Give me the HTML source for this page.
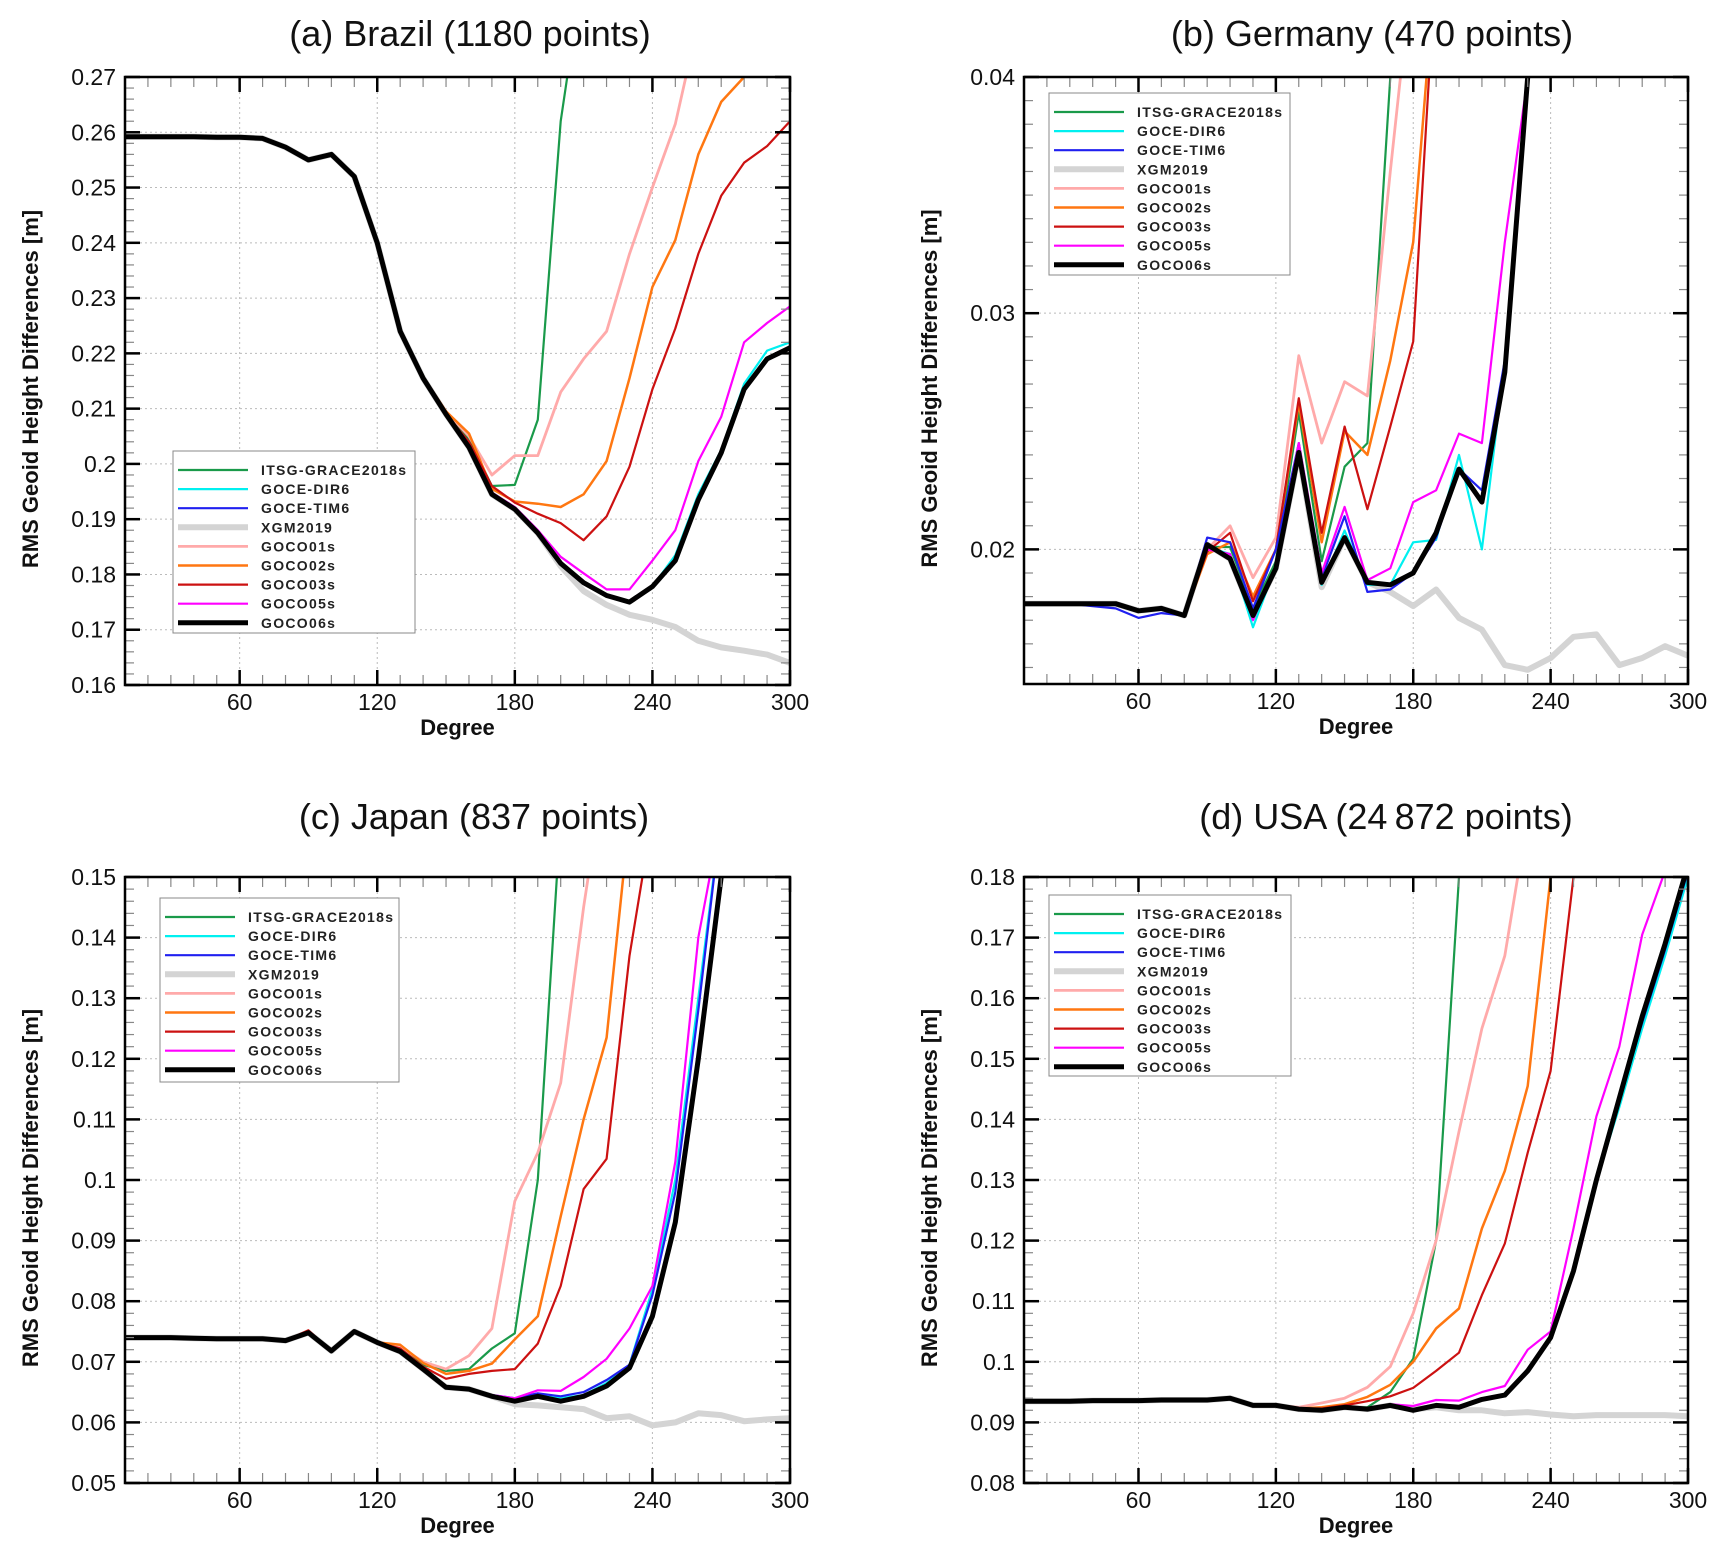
<!DOCTYPE html>
<html><head><meta charset="utf-8">
<style>
html,body{margin:0;padding:0;background:#fff;}
svg{display:block;font-family:"Liberation Sans",Arial,sans-serif;}
</style></head>
<body>
<svg id="chart" width="1728" height="1556" viewBox="0 0 1728 1556" xmlns="http://www.w3.org/2000/svg">
</svg>
<script>
// ---- shared data ----
const degrees = [0,10,20,30,40,50,60,70,80,90,100,110,120,130,140,150,160,170,180,190,200,210,220,230,240,250,260,270,280,290,300];
const seriesNames = ["ITSG-GRACE2018s","GOCE-DIR6","GOCE-TIM6","XGM2019","GOCO01s","GOCO02s","GOCO03s","GOCO05s","GOCO06s"];
const seriesColors = ["#1a9a4a","#00f0f0","#2020f0","#d4d4d4","#ffaaaa","#ff7711","#cc1111","#ff00ff","#000000"];
const seriesWidths = [2.2,2.2,2.2,6,2.8,2.5,2.2,2.2,5];

// Panel (a) Brazil
const brazilBase = [0.2595,0.2592,0.2592,0.2592,0.2592,0.2591,0.2591,0.2589,0.2573,0.255,0.256,0.252,0.240,0.224,0.2155,0.209,0.203,0.1945,0.1918,0.1875,0.182,0.1785,0.1762,0.175,0.1778,0.1825,0.1935,0.202,0.2135,0.219,0.221];
const brazilITSG = [0.2595,0.2592,0.2592,0.2592,0.2592,0.2591,0.2591,0.2589,0.2573,0.255,0.256,0.252,0.240,0.224,0.2155,0.209,0.2045,0.196,0.1962,0.208,0.262,0.29,0.3,0.3,0.3,0.3,0.3,0.3,0.3,0.3,0.3];
const brazilDIR6 = [0.2595,0.2592,0.2592,0.2592,0.2592,0.2591,0.2591,0.2589,0.2573,0.255,0.256,0.252,0.240,0.224,0.2155,0.209,0.203,0.1945,0.1918,0.1875,0.182,0.1785,0.1762,0.175,0.1778,0.1835,0.1945,0.2025,0.2145,0.2205,0.222];
const brazilTIM6 = [0.2595,0.2592,0.2592,0.2592,0.2592,0.2591,0.2591,0.2589,0.2573,0.255,0.256,0.252,0.240,0.224,0.2155,0.209,0.203,0.1945,0.1918,0.1875,0.182,0.1785,0.1762,0.1752,0.178,0.1828,0.1938,0.202,0.2138,0.219,0.2212];
const brazilXGM = [0.2595,0.2592,0.2592,0.2592,0.2592,0.2591,0.2591,0.2589,0.2573,0.255,0.256,0.252,0.240,0.224,0.2155,0.209,0.203,0.1945,0.1918,0.1875,0.1815,0.177,0.1745,0.1727,0.1718,0.1705,0.168,0.1668,0.1662,0.1655,0.164];
const brazilG01 = [0.2595,0.2592,0.2592,0.2592,0.2592,0.2591,0.2591,0.2589,0.2573,0.255,0.256,0.252,0.240,0.224,0.2155,0.2095,0.205,0.198,0.2015,0.2015,0.213,0.219,0.224,0.238,0.25,0.2615,0.28,0.3,0.3,0.3,0.3];
const brazilG02 = [0.2595,0.2592,0.2592,0.2592,0.2592,0.2591,0.2591,0.2589,0.2573,0.255,0.256,0.252,0.240,0.224,0.2158,0.2095,0.2055,0.1955,0.1932,0.1928,0.1922,0.1945,0.2005,0.2155,0.232,0.2405,0.256,0.2655,0.27,0.275,0.28];
const brazilG03 = [0.2595,0.2592,0.2592,0.2592,0.2592,0.2591,0.2591,0.2589,0.2573,0.255,0.256,0.252,0.240,0.224,0.2155,0.209,0.204,0.196,0.193,0.191,0.1893,0.1862,0.1905,0.1995,0.2135,0.2245,0.238,0.2485,0.2545,0.2575,0.262];
const brazilG05 = [0.2595,0.2592,0.2592,0.2592,0.2592,0.2591,0.2591,0.2589,0.2573,0.255,0.256,0.252,0.240,0.224,0.2155,0.209,0.203,0.1948,0.1922,0.188,0.1832,0.1802,0.1773,0.1773,0.1825,0.188,0.2005,0.2085,0.222,0.2255,0.2285];

// Panel (b) Germany
const germanyBase = [0.0177,0.0177,0.0177,0.0177,0.0177,0.0177,0.0174,0.0175,0.0172,0.0202,0.0196,0.0172,0.0192,0.0241,0.0186,0.0205,0.0186,0.0185,0.019,0.0207,0.0234,0.022,0.0275,0.040,0.05,0.05,0.05,0.05,0.05,0.05,0.05];
const germanyITSG = [0.0177,0.0177,0.0177,0.0177,0.0177,0.0177,0.0174,0.0175,0.0172,0.0201,0.0201,0.0175,0.0195,0.0258,0.0195,0.0235,0.0245,0.040,0.05,0.05,0.05,0.05,0.05,0.05,0.05,0.05,0.05,0.05,0.05,0.05,0.05];
const germanyDIR6 = [0.0177,0.0177,0.0177,0.0177,0.0177,0.0177,0.0174,0.0175,0.0172,0.0201,0.0198,0.0167,0.0193,0.0243,0.0185,0.0208,0.0185,0.0185,0.0203,0.0204,0.024,0.020,0.028,0.040,0.05,0.05,0.05,0.05,0.05,0.05,0.05];
const germanyTIM6 = [0.0177,0.0177,0.0177,0.0177,0.0176,0.0175,0.0171,0.0173,0.0172,0.0205,0.0203,0.0175,0.020,0.0245,0.0188,0.0214,0.0182,0.0183,0.019,0.0205,0.0234,0.0225,0.028,0.040,0.05,0.05,0.05,0.05,0.05,0.05,0.05];
const germanyXGM = [0.0177,0.0177,0.0177,0.0177,0.0177,0.0177,0.0174,0.0175,0.0172,0.0202,0.0196,0.0172,0.0192,0.0241,0.0184,0.0205,0.0186,0.0182,0.0176,0.0183,0.0171,0.0166,0.0151,0.0149,0.0154,0.0163,0.0164,0.0151,0.0154,0.0159,0.0155];
const germanyG01 = [0.0177,0.0177,0.0177,0.0177,0.0177,0.0177,0.0174,0.0175,0.0172,0.020,0.021,0.0188,0.0205,0.0282,0.0245,0.0271,0.0265,0.036,0.045,0.05,0.05,0.05,0.05,0.05,0.05,0.05,0.05,0.05,0.05,0.05,0.05];
const germanyG02 = [0.0177,0.0177,0.0177,0.0177,0.0177,0.0177,0.0174,0.0175,0.0172,0.0198,0.0203,0.018,0.020,0.0262,0.0203,0.025,0.024,0.028,0.033,0.045,0.05,0.05,0.05,0.05,0.05,0.05,0.05,0.05,0.05,0.05,0.05];
const germanyG03 = [0.0177,0.0177,0.0177,0.0177,0.0177,0.0177,0.0174,0.0175,0.0172,0.0199,0.0207,0.0178,0.020,0.0264,0.0207,0.0252,0.0217,0.0252,0.0288,0.045,0.05,0.05,0.05,0.05,0.05,0.05,0.05,0.05,0.05,0.05,0.05];
const germanyG05 = [0.0177,0.0177,0.0177,0.0177,0.0177,0.0177,0.0174,0.0175,0.0172,0.020,0.0198,0.017,0.0193,0.0245,0.019,0.0218,0.0187,0.0192,0.022,0.0225,0.0249,0.0245,0.033,0.040,0.05,0.05,0.05,0.05,0.05,0.05,0.05];

// Panel (c) Japan
const japanBase = [0.074,0.074,0.074,0.074,0.0739,0.0738,0.0738,0.0738,0.0735,0.0748,0.0718,0.075,0.0732,0.0717,0.0688,0.0658,0.0655,0.0643,0.0635,0.0643,0.0635,0.0643,0.066,0.069,0.0775,0.093,0.12,0.15,0.17,0.17,0.17];
const japanITSG = [0.074,0.074,0.074,0.074,0.0739,0.0738,0.0738,0.0738,0.0735,0.0748,0.0718,0.075,0.0732,0.0722,0.0695,0.0685,0.0688,0.0722,0.0747,0.100,0.160,0.17,0.17,0.17,0.17,0.17,0.17,0.17,0.17,0.17,0.17];
const japanDIR6 = [0.074,0.074,0.074,0.074,0.0739,0.0738,0.0738,0.0738,0.0735,0.0748,0.0718,0.075,0.0732,0.0717,0.0688,0.0658,0.0655,0.0645,0.0638,0.0645,0.064,0.0645,0.0665,0.0695,0.082,0.100,0.130,0.160,0.17,0.17,0.17];
const japanTIM6 = [0.074,0.074,0.074,0.074,0.0739,0.0738,0.0738,0.0738,0.0735,0.0748,0.0718,0.075,0.0732,0.0717,0.0688,0.0658,0.0655,0.0645,0.064,0.0648,0.0643,0.065,0.067,0.0695,0.081,0.098,0.128,0.160,0.17,0.17,0.17];
const japanXGM = [0.074,0.074,0.074,0.074,0.0739,0.0738,0.0738,0.0738,0.0735,0.0748,0.0718,0.075,0.0732,0.0717,0.0688,0.0658,0.0655,0.0643,0.063,0.0628,0.0625,0.0622,0.0607,0.061,0.0595,0.060,0.0615,0.0612,0.0602,0.0605,0.0607];
const japanG01 = [0.074,0.074,0.074,0.074,0.0739,0.0738,0.0738,0.0738,0.0735,0.0748,0.0718,0.075,0.0732,0.0725,0.070,0.0688,0.071,0.0755,0.0965,0.1045,0.116,0.145,0.17,0.17,0.17,0.17,0.17,0.17,0.17,0.17,0.17];
const japanG02 = [0.074,0.074,0.074,0.074,0.0739,0.0738,0.0738,0.0738,0.0735,0.0748,0.0718,0.075,0.0732,0.0728,0.0698,0.068,0.0685,0.0697,0.0737,0.0775,0.094,0.110,0.1235,0.160,0.17,0.17,0.17,0.17,0.17,0.17,0.17];
const japanG03 = [0.074,0.074,0.074,0.074,0.0739,0.0738,0.0738,0.0738,0.0735,0.0752,0.0718,0.075,0.0732,0.0722,0.0692,0.0672,0.068,0.0685,0.0688,0.073,0.0825,0.0985,0.1035,0.137,0.160,0.17,0.17,0.17,0.17,0.17,0.17];
const japanG05 = [0.074,0.074,0.074,0.074,0.0739,0.0738,0.0738,0.0738,0.0735,0.0748,0.0718,0.075,0.0732,0.0717,0.0688,0.066,0.0655,0.0645,0.064,0.0653,0.0652,0.0675,0.0705,0.0755,0.0825,0.103,0.140,0.160,0.17,0.17,0.17];

// Panel (d) USA
const usaBase = [0.0935,0.0935,0.0935,0.0935,0.0936,0.0936,0.0936,0.0937,0.0937,0.0937,0.094,0.0928,0.0928,0.0922,0.092,0.0925,0.0922,0.0928,0.092,0.0928,0.0925,0.0938,0.0945,0.0985,0.104,0.115,0.130,0.1435,0.157,0.169,0.182];
const usaITSG = [0.0935,0.0935,0.0935,0.0935,0.0936,0.0936,0.0936,0.0937,0.0937,0.0937,0.094,0.0928,0.0928,0.0922,0.0922,0.0925,0.0925,0.095,0.1005,0.120,0.180,0.2,0.2,0.2,0.2,0.2,0.2,0.2,0.2,0.2,0.2];
const usaDIR6 = [0.0935,0.0935,0.0935,0.0935,0.0936,0.0936,0.0936,0.0937,0.0937,0.0937,0.094,0.0928,0.0928,0.0922,0.092,0.0925,0.0922,0.0928,0.092,0.0928,0.0925,0.0938,0.0945,0.0985,0.104,0.115,0.130,0.142,0.155,0.167,0.180];
const usaTIM6 = [0.0935,0.0935,0.0935,0.0935,0.0936,0.0936,0.0935,0.0937,0.0937,0.0937,0.094,0.0928,0.0928,0.0922,0.092,0.0925,0.0922,0.0928,0.092,0.0928,0.0926,0.0938,0.0945,0.0985,0.104,0.115,0.130,0.143,0.156,0.168,0.181];
const usaXGM = [0.0935,0.0935,0.0935,0.0935,0.0936,0.0936,0.0936,0.0937,0.0937,0.0937,0.094,0.0928,0.0928,0.0922,0.092,0.0925,0.0922,0.0928,0.0922,0.0925,0.092,0.092,0.0915,0.0917,0.0913,0.091,0.0912,0.0912,0.0912,0.0912,0.091];
const usaG01 = [0.0935,0.0935,0.0935,0.0935,0.0936,0.0936,0.0936,0.0937,0.0937,0.0937,0.094,0.0928,0.0928,0.0925,0.0932,0.094,0.0958,0.0992,0.108,0.120,0.138,0.155,0.167,0.19,0.2,0.2,0.2,0.2,0.2,0.2,0.2];
const usaG02 = [0.0935,0.0935,0.0935,0.0935,0.0936,0.0936,0.0936,0.0937,0.0937,0.0937,0.094,0.0928,0.0928,0.0923,0.0925,0.093,0.0942,0.0962,0.100,0.1055,0.1088,0.122,0.1315,0.1455,0.180,0.2,0.2,0.2,0.2,0.2,0.2];
const usaG03 = [0.0935,0.0935,0.0935,0.0935,0.0936,0.0936,0.0936,0.0937,0.0937,0.0937,0.094,0.0928,0.0928,0.0923,0.0923,0.0928,0.0935,0.0943,0.0957,0.0985,0.1015,0.111,0.1195,0.1345,0.148,0.180,0.2,0.2,0.2,0.2,0.2];
const usaG05 = [0.0935,0.0935,0.0935,0.0935,0.0936,0.0936,0.0936,0.0937,0.0937,0.0937,0.094,0.0928,0.0928,0.0922,0.092,0.0925,0.0922,0.093,0.0927,0.0937,0.0936,0.095,0.096,0.102,0.105,0.122,0.1405,0.152,0.1705,0.181,0.19];

const xTicks = [60,120,180,240,300];
const brazilYTicks = [0.16,0.17,0.18,0.19,0.2,0.21,0.22,0.23,0.24,0.25,0.26,0.27];
const germanyYTicks = [0.02,0.03,0.04];
const japanYTicks = [0.05,0.06,0.07,0.08,0.09,0.1,0.11,0.12,0.13,0.14,0.15];
const usaYTicks = [0.08,0.09,0.1,0.11,0.12,0.13,0.14,0.15,0.16,0.17,0.18];

const XMIN = 10, XMAX = 300;

const panels = [
  {id:"brazil", title:"(a) Brazil (1180 points)", x0:125,x1:790,y0:77,y1:685, ymin:0.16,ymax:0.27, yticks:brazilYTicks, minor:0.002,
   series:[brazilITSG,brazilDIR6,brazilTIM6,brazilXGM,brazilG01,brazilG02,brazilG03,brazilG05,brazilBase],
   legend:{x:173,y:451,w:242,h:182}, titleX:470, titleY:46, ylabX:30},
  {id:"germany", title:"(b) Germany (470 points)", x0:1024,x1:1688,y0:77,y1:684, ymin:0.0143,ymax:0.04, yticks:germanyYTicks, minor:0.001,
   series:[germanyITSG,germanyDIR6,germanyTIM6,germanyXGM,germanyG01,germanyG02,germanyG03,germanyG05,germanyBase],
   legend:{x:1049,y:93,w:241,h:182}, titleX:1372, titleY:46, ylabX:929},
  {id:"japan", title:"(c) Japan (837 points)", x0:125,x1:790,y0:877,y1:1483, ymin:0.05,ymax:0.15, yticks:japanYTicks, minor:0.002,
   series:[japanITSG,japanDIR6,japanTIM6,japanXGM,japanG01,japanG02,japanG03,japanG05,japanBase],
   legend:{x:160,y:898,w:239,h:184}, titleX:474, titleY:829, ylabX:30},
  {id:"usa", title:"(d) USA (24\u2009872 points)", x0:1024,x1:1688,y0:877,y1:1483, ymin:0.08,ymax:0.18, yticks:usaYTicks, minor:0.002,
   series:[usaITSG,usaDIR6,usaTIM6,usaXGM,usaG01,usaG02,usaG03,usaG05,usaBase],
   legend:{x:1049,y:895,w:242,h:181}, titleX:1386, titleY:829, ylabX:929}
];

const NS = "http://www.w3.org/2000/svg";
const svg = document.getElementById("chart");
function mk(tag, attrs, parent){
  const e = document.createElementNS(NS, tag);
  for (const k in attrs) e.setAttribute(k, attrs[k]);
  parent.appendChild(e);
  return e;
}
function fmt(v){ return String(parseFloat(v.toFixed(4))); }

panels.forEach((p, pi) => {
  const g = mk("g", {}, svg);
  
  
  const xs = d => p.x0 + (d - XMIN) / (XMAX - XMIN) * (p.x1 - p.x0);
  const ys = v => p.y1 - (v - p.ymin) / (p.ymax - p.ymin) * (p.y1 - p.y0);

  const t = mk("text", {x:p.titleX, y:p.titleY, "text-anchor":"middle", "font-size":"36", fill:"#111"}, g);
  t.textContent = p.title;
  
  

  // grid
  xTicks.forEach(d => { if (d < XMAX) {
    const l = mk("line", {x1:xs(d), x2:xs(d), y1:p.y0, y2:p.y1, stroke:"#bbb", "stroke-width":1, "stroke-dasharray":"2,3"}, g);
    
    
  }});
  p.yticks.forEach(v => { if (v > p.ymin + 1e-9 && v < p.ymax - 1e-9) {
    const l = mk("line", {x1:p.x0, x2:p.x1, y1:ys(v), y2:ys(v), stroke:"#bbb", "stroke-width":1, "stroke-dasharray":"2,3"}, g);
    
    
  }});

  // clip
  const cp = mk("clipPath", {id:"clip"+pi}, g);
  mk("rect", {x:p.x0, y:p.y0, width:p.x1-p.x0, height:p.y1-p.y0}, cp);

  const order = [3,0,4,5,6,1,2,7,8];
  order.forEach(si => {
    const vals = p.series[si];
    const pts = degrees.map((d,i) => xs(d).toFixed(1) + "," + ys(vals[i]).toFixed(1)).join(" ");
    const pl = mk("polyline", {points:pts, fill:"none", stroke:seriesColors[si], "stroke-width":seriesWidths[si], "stroke-linejoin":"round", "clip-path":"url(#clip"+pi+")"}, g);
    
    
  });

  // minor ticks
  for (let d = XMIN + 10; d < XMAX; d += 10) {
    if (d % 60 === 0) continue;
    mk("line", {x1:xs(d), x2:xs(d), y1:p.y1, y2:p.y1-10, stroke:"#888", "stroke-width":1.2}, g);
    mk("line", {x1:xs(d), x2:xs(d), y1:p.y0, y2:p.y0+10, stroke:"#888", "stroke-width":1.2}, g);
  }
  const nMinor = Math.round((p.ymax - p.ymin) / p.minor);
  for (let k = 0; k <= nMinor + 1; k++) {
    const v = Math.ceil(p.ymin / p.minor - 1e-6) * p.minor + k * p.minor;
    if (v > p.ymax + 1e-9) break;
    const y = ys(v);
    mk("line", {x1:p.x0, x2:p.x0+9, y1:y, y2:y, stroke:"#888", "stroke-width":1.2}, g);
    mk("line", {x1:p.x1, x2:p.x1-9, y1:y, y2:y, stroke:"#888", "stroke-width":1.2}, g);
  }
  // major ticks + labels
  xTicks.forEach(d => {
    mk("line", {x1:xs(d), x2:xs(d), y1:p.y1, y2:p.y1-15, stroke:"#000", "stroke-width":2.5}, g);
    mk("line", {x1:xs(d), x2:xs(d), y1:p.y0, y2:p.y0+15, stroke:"#000", "stroke-width":2.5}, g);
    const tl = mk("text", {x:xs(d), y:p.y1+25, "text-anchor":"middle", "font-size":"23", fill:"#111"}, g);
    tl.textContent = String(d);
    
    
  });
  p.yticks.forEach(v => {
    const y = ys(v);
    mk("line", {x1:p.x0, x2:p.x0+15, y1:y, y2:y, stroke:"#000", "stroke-width":2.5}, g);
    mk("line", {x1:p.x1, x2:p.x1-15, y1:y, y2:y, stroke:"#000", "stroke-width":2.5}, g);
    const tl = mk("text", {x:p.x0-9, y:y+8, "text-anchor":"end", "font-size":"23", fill:"#111"}, g);
    tl.textContent = fmt(v);
    
    
  });

  const fr = mk("rect", {x:p.x0, y:p.y0, width:p.x1-p.x0, height:p.y1-p.y0, fill:"none", stroke:"#000", "stroke-width":2.5}, g);
  
  

  const xt = mk("text", {x:(p.x0+p.x1)/2, y:p.y1+50, "text-anchor":"middle", "font-size":"22", "font-weight":"bold", fill:"#111"}, g);
  xt.textContent = "Degree";
  
  
  const cy = (p.y0 + p.y1) / 2;
  const yt = mk("text", {x:p.ylabX, y:cy, "text-anchor":"middle", "font-size":"22", "font-weight":"bold", fill:"#111", transform:"rotate(-90 "+(p.ylabX+8)+" "+cy+")"}, g);
  yt.textContent = "RMS Geoid Height Differences [m]";
  
  

  const L = p.legend;
  const lg = mk("g", {}, g);
  
  
  mk("rect", {x:L.x, y:L.y, width:L.w, height:L.h, fill:"#fff", stroke:"#888", "stroke-width":1}, lg);
  seriesNames.forEach((n, i) => {
    const ry = L.y + 19 + i * 19.1;
    const e = mk("g", {}, lg);
    
    
    mk("line", {x1:L.x+5, x2:L.x+75, y1:ry, y2:ry, stroke:seriesColors[i], "stroke-width":seriesWidths[i]}, e);
    const tx = mk("text", {x:L.x+88, y:ry+5, "font-size":"14", "font-weight":"bold", "letter-spacing":"1.3", fill:"#222"}, e);
    tx.textContent = n;
  });
});
</script>
</body></html>
